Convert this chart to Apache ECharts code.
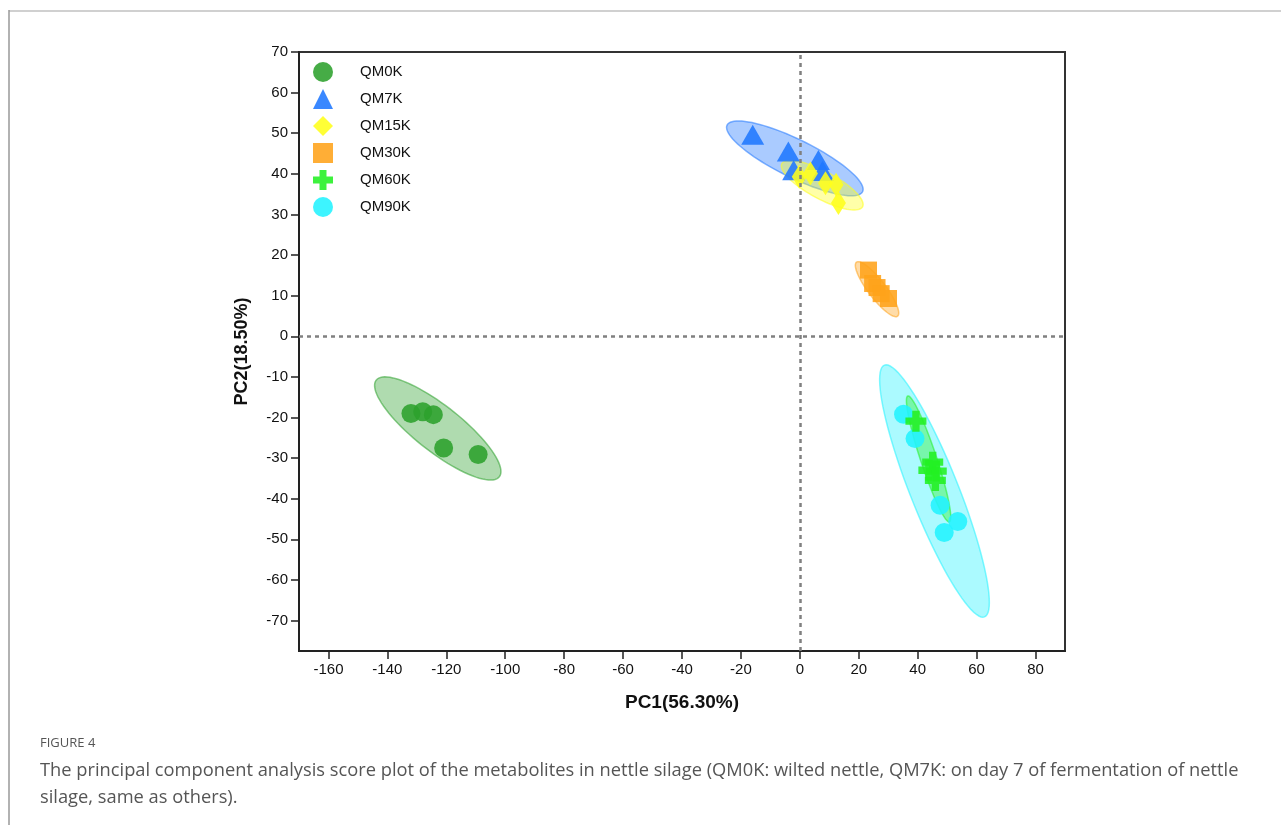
<!DOCTYPE html>
<html>
<head>
<meta charset="utf-8">
<title>PCA score plot</title>
<script src="https://cdn.jsdelivr.net/npm/echarts@6/dist/echarts.min.js"></script>
<style>
  html, body { margin: 0; padding: 0; background: #fff; }
  #chart { width: 1281px; height: 825px; }
</style>
</head>
<body>
<div id="chart"></div>
<script>
// tick labels
var xTicks = [-160, -140, -120, -100, -80, -60, -40, -20, 0, 20, 40, 60, 80];
var yTicks = [-70, -60, -50, -40, -30, -20, -10, 0, 10, 20, 30, 40, 50, 60, 70];

// groups
var groupNames = ['QM0K', 'QM7K', 'QM15K', 'QM30K', 'QM60K', 'QM90K'];
var groupColors = ['#2ca02c', '#1f77ff', '#ffff1a', '#ffa31a', '#22f022', '#22f2ff'];

// scores (PC1, PC2)
var qm0k = [[-132.0, -19.0], [-128.0, -18.6], [-124.4, -19.3], [-120.9, -27.5], [-109.2, -29.1]];
var qm7k = [[-16.0, 49.6], [-3.9, 45.5], [6.3, 43.4], [-2.1, 40.9], [7.7, 40.7]];
var qm15k = [[-0.2, 39.3], [3.6, 40.1], [8.7, 37.7], [12.3, 37.3], [13.1, 32.8]];
var qm30k = [[23.3, 16.3], [24.7, 13.0], [26.2, 12.0], [27.6, 10.5], [30.1, 9.3]];
var qm60k = [[39.4, -20.9], [45.1, -31.0], [43.8, -33.0], [46.3, -33.2], [46.0, -35.5]];
var qm90k = [[35.2, -19.2], [39.1, -25.2], [47.6, -41.6], [53.6, -45.6], [49.0, -48.3]];

// confidence ellipses: centre x, centre y, semi-axis u (x, y), semi-axis v (x, y)
var ellQM0K = [-122.9, -22.7, 20.9, -11.9, -4.8, -4.45];
var ellQM7K = [-1.7, 43.8, 23.0, -8.2, -2.85, -4.2];
var ellQM15K = [7.6, 37.2, 13.7, -5.3, -2.2, -3.0];
var ellQM30K = [26.2, 11.6, 6.96, -6.65, -2.4, -1.3];
var ellQM60K = [43.7, -30.2, 7.06, -15.5, -2.6, -0.62];
var ellQM90K = [45.7, -38.1, 17.0, -31.0, -7.6, -2.2];

var crossPath = 'path://M6.5,0H13.5V6.5H20V13.5H13.5V20H6.5V13.5H0V6.5H6.5Z';

function hexToRgba(hex, a) {
  var n = parseInt(hex.slice(1), 16);
  return 'rgba(' + (n >> 16) + ',' + ((n >> 8) & 255) + ',' + (n & 255) + ',' + a + ')';
}

function ellipseSeries(name, ell, color) {
  return {
    name: name + ' ellipse',
    type: 'custom',
    silent: true,
    z: 1,
    clip: true,
    data: [ell],
    renderItem: function (params, api) {
      var cx = api.value(0), cy = api.value(1);
      var ux = api.value(2), uy = api.value(3);
      var vx = api.value(4), vy = api.value(5);
      var pts = [];
      for (var i = 0; i < 90; i++) {
        var t = i / 90 * Math.PI * 2;
        pts.push(api.coord([
          cx + ux * Math.cos(t) + vx * Math.sin(t),
          cy + uy * Math.cos(t) + vy * Math.sin(t)
        ]));
      }
      return {
        type: 'polygon',
        shape: { points: pts },
        style: { fill: hexToRgba(color, 0.38), stroke: hexToRgba(color, 0.55), lineWidth: 1.5 }
      };
    }
  };
}

function scatterSeries(name, data, color, symbol, size) {
  return {
    name: name,
    type: 'scatter',
    z: 3,
    data: data,
    symbol: symbol,
    symbolSize: size,
    itemStyle: { color: color, opacity: 0.88 }
  };
}

var chart = echarts.init(document.getElementById('chart'));

var series = [
  ellipseSeries('QM0K', ellQM0K, groupColors[0]),
  ellipseSeries('QM7K', ellQM7K, groupColors[1]),
  ellipseSeries('QM15K', ellQM15K, groupColors[2]),
  ellipseSeries('QM30K', ellQM30K, groupColors[3]),
  ellipseSeries('QM90K', ellQM90K, groupColors[5]),
  ellipseSeries('QM60K', ellQM60K, groupColors[4]),
  scatterSeries('QM0K', qm0k, groupColors[0], 'circle', 19),
  scatterSeries('QM7K', qm7k, groupColors[1], 'triangle', [23, 20]),
  scatterSeries('QM15K', qm15k, groupColors[2], 'diamond', [15, 24]),
  scatterSeries('QM30K', qm30k, groupColors[3], 'rect', 17),
  scatterSeries('QM90K', qm90k, groupColors[5], 'circle', 19),
  scatterSeries('QM60K', qm60k, groupColors[4], crossPath, 21)
];

// zero reference lines
series.push({
  name: 'zero',
  type: 'scatter',
  data: [],
  z: 2,
  markLine: {
    silent: true,
    symbol: 'none',
    label: { show: false },
    lineStyle: { color: '#808080', type: [4, 4], width: 2.5 },
    data: [{ xAxis: 0 }, { yAxis: 0 }]
  }
});

var legendIcons = ['circle', 'triangle', 'diamond', 'rect', crossPath, 'circle'];

chart.setOption({
  animation: false,
  backgroundColor: '#fff',
  grid: {
    left: 299, top: 52, width: 766, height: 599,
    show: true, borderColor: '#333', borderWidth: 2, backgroundColor: 'transparent'
  },
  legend: {
    orient: 'vertical',
    left: 313, top: 62,
    padding: 0,
    itemWidth: 20, itemHeight: 20, itemGap: 7,
    selectedMode: false,
    textStyle: { fontFamily: 'Liberation Sans, Arial', fontSize: 15, color: '#111', padding: [0, 0, 0, 22] },
    data: groupNames.map(function (n, i) { return { name: n, icon: legendIcons[i] }; })
  },
  xAxis: {
    type: 'value',
    min: -170, max: 90,
    splitLine: { show: false },
    axisLine: { onZero: false, lineStyle: { color: '#222', width: 2 } },
    axisTick: { customValues: xTicks, length: 8, lineStyle: { color: '#222', width: 1.5 } },
    axisLabel: { customValues: xTicks, margin: 11, fontFamily: 'Liberation Sans, Arial', fontSize: 15, color: '#111' },
    name: 'PC1(56.30%)',
    nameLocation: 'middle',
    nameGap: 42,
    nameTextStyle: { fontFamily: 'Liberation Sans, Arial', fontSize: 19, fontWeight: 'bold', color: '#111' }
  },
  yAxis: {
    type: 'value',
    min: -77.5, max: 70,
    splitLine: { show: false },
    axisLine: { onZero: false, lineStyle: { color: '#222', width: 2 } },
    axisTick: { customValues: yTicks, length: 8, lineStyle: { color: '#222', width: 1.5 } },
    axisLabel: { customValues: yTicks, margin: 11, fontFamily: 'Liberation Sans, Arial', fontSize: 15, color: '#111' },
    name: 'PC2(18.50%)',
    nameLocation: 'middle',
    nameGap: 48,
    nameTextStyle: { fontFamily: 'Liberation Sans, Arial', fontSize: 18, fontWeight: 'bold', color: '#111' }
  },
  graphic: [
    { type: 'line', shape: { x1: 9, y1: 11, x2: 1281, y2: 11 }, style: { stroke: '#d0d0d0', lineWidth: 2 }, silent: true },
    { type: 'line', shape: { x1: 9, y1: 10, x2: 9, y2: 825 }, style: { stroke: '#999', lineWidth: 1.5 }, silent: true },
    { type: 'text', left: 40, top: 737, style: { text: 'FIGURE 4', fontFamily: 'Open Sans', fontSize: 13, fill: '#555' } },
    { type: 'text', left: 40, top: 757, style: {
        text: 'The principal component analysis score plot of the metabolites in nettle silage (QM0K: wilted nettle, QM7K: on day 7 of fermentation of nettle\nsilage, same as others).',
        fontFamily: 'Open Sans', fontSize: 18.3, lineHeight: 27, fill: '#555' } }
  ],
  series: series
});
</script>
</body>
</html>
